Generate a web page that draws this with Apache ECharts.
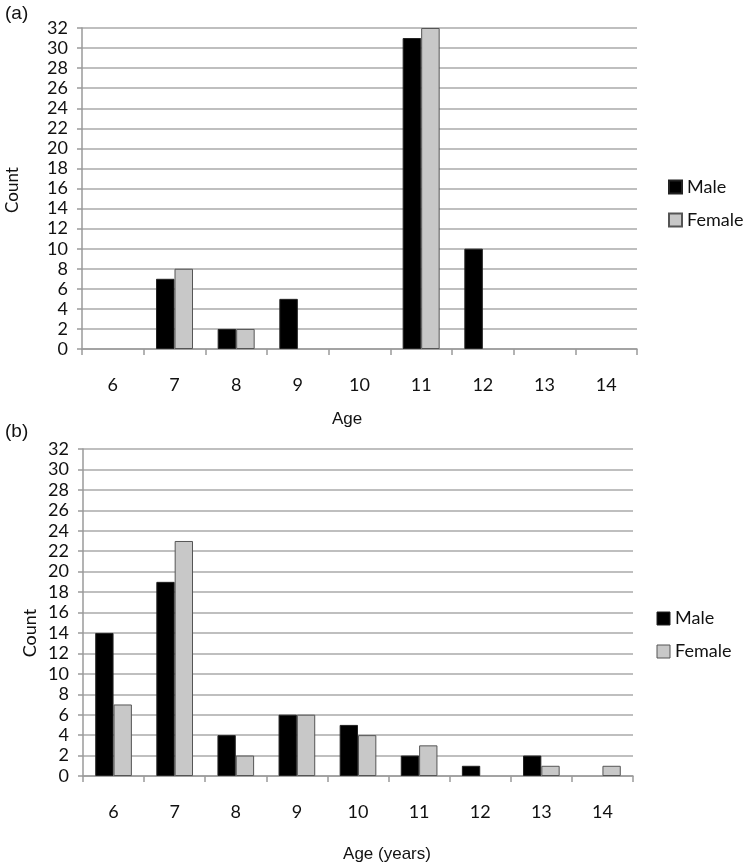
<!DOCTYPE html>
<html>
<head>
<meta charset="utf-8">
<script src="https://cdn.jsdelivr.net/npm/echarts@6/dist/echarts.min.js"></script>
<style>
  html, body { margin: 0; padding: 0; background: #fff; }
  #chart { width: 746px; height: 867px; }
</style>
</head>
<body>
<div id="chart"></div>
<script>
'use strict';

// ages on the x axis, same for both panels
var ages = ['6', '7', '8', '9', '10', '11', '12', '13', '14'];

// panel (a)
var maleA   = [0, 7, 2, 5, 0, 31, 10, 0, 0];
var femaleA = [0, 8, 2, 0, 0, 32, 0, 0, 0];

// panel (b)
var maleB   = [14, 19, 4, 6, 5, 2, 1, 2, 0];
var femaleB = [7, 23, 2, 6, 4, 3, 0, 1, 1];

var tickFont = 'Lato, "Open Sans", sans-serif';
var nameFont = '"Liberation Sans", Arial, sans-serif';

function xAxisFor(idx) {
    return {
        type: 'category',
        gridIndex: idx,
        data: ages,
        axisLine: { lineStyle: { color: '#9a9a9a', width: 1.5 } },
        axisTick: { show: true, length: 6, lineStyle: { color: '#9a9a9a', width: 1.5 } },
        axisLabel: { color: '#111', fontSize: 18, fontFamily: tickFont, margin: 27 },
        splitLine: { show: false }
    };
}

function yAxisFor(idx) {
    return {
        type: 'value',
        gridIndex: idx,
        min: 0,
        max: 32,
        interval: 2,
        axisLine: { show: true, lineStyle: { color: '#9a9a9a', width: 1.5 } },
        axisTick: { show: true, length: 5, lineStyle: { color: '#9a9a9a', width: 1.5 } },
        axisLabel: { color: '#111', fontSize: 18, fontFamily: tickFont, margin: 14 },
        splitLine: { show: true, lineStyle: { color: '#aaaaaa', width: 1.5 } }
    };
}

function barSeries(name, data, idx, fill, border) {
    // a zero count draws no bar at all
    var shown = data.map(function (v) { return v === 0 ? '-' : v; });
    return {
        name: name,
        type: 'bar',
        xAxisIndex: idx,
        yAxisIndex: idx,
        data: shown,
        barGap: '0%',
        barCategoryGap: '40%',
        itemStyle: { color: fill, borderColor: border, borderWidth: 1 },
        animation: false
    };
}

var legendText = { color: '#111', fontSize: 18, fontFamily: tickFont };

var my_chart = echarts.init(document.getElementById('chart'), null, { renderer: 'canvas' });
my_chart.setOption({
    backgroundColor: '#ffffff',
    animation: false,
    grid: [
        { left: 82, top: 28, width: 555, height: 321 },
        { left: 83, top: 449, width: 550, height: 327 }
    ],
    xAxis: [xAxisFor(0), xAxisFor(1)],
    yAxis: [yAxisFor(0), yAxisFor(1)],
    legend: [
        {
            data: [{ name: 'Male' }, { name: 'Female' }],
            orient: 'vertical',
            left: 663, top: 173,
            icon: 'rect',
            itemWidth: 13, itemHeight: 13, itemGap: 15,
            textStyle: legendText,
            selectedMode: false
        }
    ],
    series: [
        barSeries('Male', maleA, 0, '#000000', '#222222'),
        barSeries('Female', femaleA, 0, '#c8c8c8', '#555555'),
        barSeries('Male', maleB, 1, '#000000', '#222222'),
        barSeries('Female', femaleB, 1, '#c8c8c8', '#555555')
    ],
    graphic: [
        { type: 'text', left: 5, top: 4, style: { text: '(a)', fontSize: 19, fontFamily: nameFont, fill: '#111' } },
        { type: 'text', left: 5, top: 422, style: { text: '(b)', fontSize: 19, fontFamily: nameFont, fill: '#111' } },
        { type: 'text', x: 13, y: 190, rotation: Math.PI / 2,
          style: { text: 'Count', fontSize: 17, fontFamily: tickFont, fill: '#111', align: 'center', verticalAlign: 'middle' } },
        { type: 'text', x: 30, y: 633, rotation: Math.PI / 2,
          style: { text: 'Count', fontSize: 18, fontFamily: tickFont, fill: '#111', align: 'center', verticalAlign: 'middle' } },
        { type: 'text', x: 347, y: 419,
          style: { text: 'Age', fontSize: 17, fontFamily: nameFont, fill: '#111', align: 'center', verticalAlign: 'middle' } },
        { type: 'text', x: 387, y: 854,
          style: { text: 'Age (years)', fontSize: 17, fontFamily: nameFont, fill: '#111', align: 'center', verticalAlign: 'middle' } },
        // second legend drawn as part of panel (b)
        { type: 'rect', shape: { x: 657, y: 612, width: 13, height: 13 }, style: { fill: '#000', stroke: '#222', lineWidth: 1 } },
        { type: 'text', x: 675, y: 618, style: { text: 'Male', fontSize: 18, fontFamily: tickFont, fill: '#111', verticalAlign: 'middle' } },
        { type: 'rect', shape: { x: 657, y: 645, width: 13, height: 13 }, style: { fill: '#c8c8c8', stroke: '#555', lineWidth: 1 } },
        { type: 'text', x: 675, y: 651, style: { text: 'Female', fontSize: 18, fontFamily: tickFont, fill: '#111', verticalAlign: 'middle' } }
    ]
});
</script>
</body>
</html>
